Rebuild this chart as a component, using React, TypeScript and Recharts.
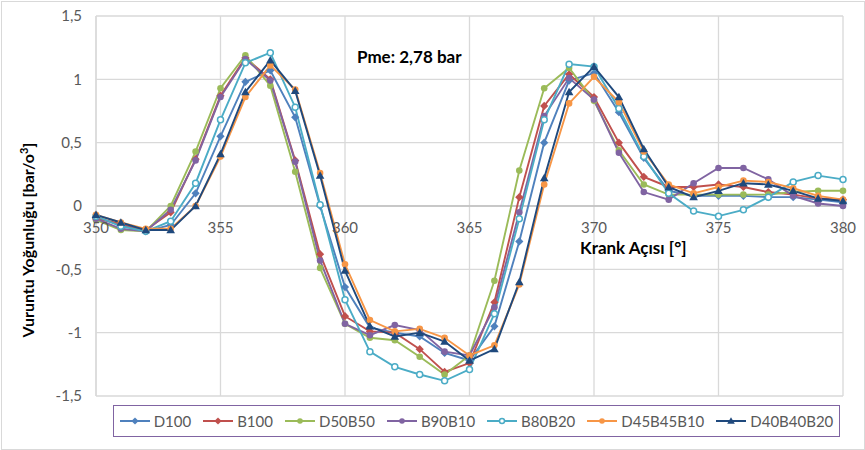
import { CartesianGrid, Legend, Line, LineChart, ReferenceLine, XAxis, YAxis } from "recharts";

const angles = [
  350, 351, 352, 353, 354, 355, 356, 357, 358, 359, 360, 361, 362, 363, 364, 365,
  366, 367, 368, 369, 370, 371, 372, 373, 374, 375, 376, 377, 378, 379, 380,
];
const xTicks = [350, 355, 360, 365, 370, 375, 380];
const yTicks = [-1.5, -1, -0.5, 0, 0.5, 1, 1.5];

const d100 = [
  -0.09, -0.15, -0.2, -0.15, 0.1, 0.55, 0.98, 1.07, 0.7, 0.0, -0.64, -0.96, -1.0, -1.03, -1.16, -1.22,
  -0.95, -0.28, 0.5, 0.99, 1.05, 0.74, 0.38, 0.12, 0.08, 0.08, 0.08, 0.07, 0.07, 0.05, 0.03,
];
const b100 = [
  -0.1, -0.14, -0.19, -0.05, 0.37, 0.87, 1.17, 1.0, 0.36, -0.38, -0.87, -0.99, -1.0, -1.13, -1.31, -1.24,
  -0.76, 0.07, 0.79, 1.04, 0.86, 0.5, 0.23, 0.15, 0.15, 0.17, 0.15, 0.11, 0.09, 0.06, 0.05,
];
const d50b50 = [
  -0.11, -0.19, -0.2, 0.0, 0.43, 0.93, 1.19, 0.95, 0.27, -0.49, -0.93, -1.04, -1.06, -1.19, -1.33, -1.18,
  -0.59, 0.28, 0.93, 1.09, 0.83, 0.44, 0.17, 0.09, 0.09, 0.09, 0.09, 0.09, 0.11, 0.12, 0.12,
];
const b90b10 = [
  -0.1, -0.18, -0.2, -0.03, 0.36, 0.86, 1.16, 0.99, 0.35, -0.43, -0.93, -1.02, -0.94, -0.98, -1.15, -1.18,
  -0.8, -0.05, 0.71, 1.01, 0.84, 0.42, 0.11, 0.05, 0.18, 0.3, 0.3, 0.21, 0.08, 0.02, 0.0,
];
const b80b20 = [
  -0.08, -0.16, -0.2, -0.12, 0.18, 0.68, 1.13, 1.21, 0.78, 0.01, -0.74, -1.15, -1.27, -1.33, -1.38, -1.29,
  -0.85, -0.1, 0.68, 1.12, 1.1, 0.77, 0.39, 0.1, -0.04, -0.08, -0.03, 0.07, 0.19, 0.24, 0.21,
];
const d45b45b10 = [
  -0.07, -0.13, -0.18, -0.18, 0.0, 0.39, 0.86, 1.11, 0.92, 0.26, -0.46, -0.9, -0.99, -0.97, -1.04, -1.18,
  -1.1, -0.62, 0.17, 0.81, 1.02, 0.82, 0.43, 0.17, 0.1, 0.15, 0.2, 0.19, 0.14, 0.08, 0.05,
];
const d40b40b20 = [
  -0.07, -0.13, -0.19, -0.19, 0.0, 0.41, 0.9, 1.15, 0.91, 0.24, -0.51, -0.95, -1.03, -1.0, -1.07, -1.22,
  -1.13, -0.6, 0.22, 0.9, 1.1, 0.86, 0.45, 0.15, 0.07, 0.12, 0.18, 0.17, 0.12, 0.06, 0.04,
];

type Shape = "circle" | "diamond" | "triangle" | "hollow";
type Series = { key: string; label: string; color: string; shape: Shape; values: number[] };

const series: Series[] = [
  { key: "d100", label: "D100", color: "#4F81BD", shape: "diamond", values: d100 },
  { key: "b100", label: "B100", color: "#C0504D", shape: "diamond", values: b100 },
  { key: "d50b50", label: "D50B50", color: "#9BBB59", shape: "circle", values: d50b50 },
  { key: "b90b10", label: "B90B10", color: "#8064A2", shape: "circle", values: b90b10 },
  { key: "b80b20", label: "B80B20", color: "#4BACC6", shape: "hollow", values: b80b20 },
  { key: "d45b45b10", label: "D45B45B10", color: "#F79646", shape: "circle", values: d45b45b10 },
  { key: "d40b40b20", label: "D40B40B20", color: "#1F497D", shape: "triangle", values: d40b40b20 },
];

const data = angles.map((a, i) => {
  const row: Record<string, number> = { angle: a };
  series.forEach((s) => {
    row[s.key] = s.values[i];
  });
  return row;
});

const FONT = "Lato, 'Liberation Sans', sans-serif";
const TEXT = "#595959";
const GRID = "#D9D9D9";

// plot box: top 16, bottom 396 -> y=0 sits half way down
const MARGIN = { top: 16, right: 22, left: 0, bottom: 34 };
const PLOT_H = 450 - MARGIN.top - MARGIN.bottom - 20;

function Marker({ cx, cy, shape, color, size = 3.3 }: { cx?: number; cy?: number; shape: Shape; color: string; size?: number }) {
  if (cx == null || cy == null) return null;
  if (shape === "diamond") {
    const r = size + 0.8;
    return <path d={`M${cx},${cy - r}L${cx + r},${cy}L${cx},${cy + r}L${cx - r},${cy}Z`} fill={color} />;
  }
  if (shape === "triangle") {
    const r = size + 1;
    return <path d={`M${cx},${cy - r}L${cx + r},${cy + r * 0.75}L${cx - r},${cy + r * 0.75}Z`} fill={color} />;
  }
  if (shape === "hollow") {
    return <circle cx={cx} cy={cy} r={size - 0.3} fill="#fff" stroke={color} strokeWidth={1.5} />;
  }
  return <circle cx={cx} cy={cy} r={size} fill={color} />;
}

function XTick({ x, y, payload }: any) {
  // labels sit just under the zero line, as in Excel
  return (
    <text x={x} y={y - PLOT_H / 2 + 27} textAnchor="middle" fill={TEXT} fontSize={15} fontFamily={FONT}>
      {payload.value}
    </text>
  );
}

function YLabel({ viewBox }: any) {
  const cx = viewBox.x + 34;
  const cy = viewBox.y + viewBox.height / 2 + 34;
  return (
    <text
      x={cx}
      y={cy}
      transform={`rotate(-90 ${cx} ${cy})`}
      textAnchor="middle"
      fill="#000"
      fontSize={16}
      fontWeight="bold"
      fontFamily={FONT}
    >
      Vuruntu Yoğunluğu [bar/o
      <tspan dy={-6} fontSize={11}>3</tspan>
      <tspan dy={6}>]</tspan>
    </text>
  );
}

function LegendBox() {
  return (
    <div
      style={{
        boxSizing: "border-box",
        border: "1.5px solid #8064A2",
        height: 32,
        display: "flex",
        alignItems: "center",
        justifyContent: "center",
        gap: 12,
        fontFamily: FONT,
        fontSize: 15,
        color: TEXT,
      }}
    >
      {series.map((s) => (
        <span key={s.key} style={{ display: "flex", alignItems: "center", gap: 4 }}>
          <svg width={30} height={10}>
            <line x1={0} y1={5} x2={30} y2={5} stroke={s.color} strokeWidth={2} />
            <Marker cx={15} cy={5} shape={s.shape} color={s.color} size={2.8} />
          </svg>
          {s.label}
        </span>
      ))}
    </div>
  );
}

export default function App() {
  return (
    <div
      style={{
        position: "absolute",
        left: 0,
        top: 0,
        width: 865,
        height: 450,
        background: "#fff",
        fontFamily: FONT,
      }}
    >
      <div
        style={{
          position: "absolute",
          left: 1,
          top: 1,
          width: 862,
          height: 447,
          border: `1px solid ${GRID}`,
        }}
      />
      <LineChart width={865} height={450} data={data} margin={MARGIN}>
        <CartesianGrid stroke={GRID} strokeWidth={1.3} />
        <XAxis
          dataKey="angle"
          type="number"
          domain={[350, 380]}
          ticks={xTicks}
          axisLine={false}
          tickLine={false}
          tickSize={0}
          tickMargin={0}
          height={20}
          tick={<XTick />}
          interval={0}
        />
        <YAxis
          type="number"
          domain={[-1.5, 1.5]}
          ticks={yTicks}
          width={96}
          axisLine={{ stroke: GRID, strokeWidth: 1.3 }}
          tickLine={false}
          tickSize={0}
          tickMargin={14}
          interval={0}
          tick={{ fill: TEXT, fontSize: 15, fontFamily: FONT }}
          tickFormatter={(v: number) => String(v).replace(".", ",")}
          label={<YLabel />}
        />
        <ReferenceLine y={0} stroke="#BFBFBF" strokeWidth={1.3} />
        <Legend
          layout="horizontal"
          verticalAlign="middle"
          align="center"
          wrapperStyle={{ left: 113, top: 405, width: 727 }}
          content={<LegendBox />}
        />
        {series.map((s) => (
          <Line
            key={s.key}
            dataKey={s.key}
            name={s.label}
            type="linear"
            stroke={s.color}
            strokeWidth={1.9}
            dot={(p: any) => <Marker key={`${s.key}-${p.index}`} cx={p.cx} cy={p.cy} shape={s.shape} color={s.color} />}
            activeDot={false}
            isAnimationActive={false}
          />
        ))}
      </LineChart>
      <div
        style={{
          position: "absolute",
          left: 357,
          top: 46,
          fontFamily: FONT,
          fontSize: 17,
          fontWeight: "bold",
          color: "#000",
        }}
      >
        Pme: 2,78 bar
      </div>
      <div
        style={{
          position: "absolute",
          left: 580,
          top: 237,
          fontFamily: FONT,
          fontSize: 17,
          fontWeight: "bold",
          color: "#000",
        }}
      >
        Krank Açısı [°]
      </div>
    </div>
  );
}
